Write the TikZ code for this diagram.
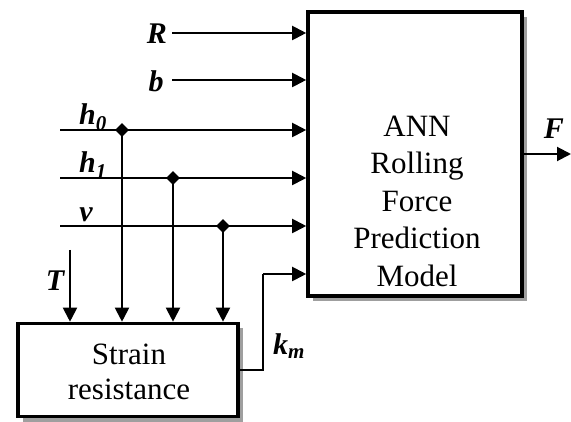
\documentclass[tikz,border=0pt]{standalone}
\usepackage{fontspec}
\setmainfont{Liberation Serif}
\usetikzlibrary{arrows.meta, shapes.geometric, shadows}

\begin{document}
\begin{tikzpicture}[
        x=1pt, y=-1pt,
        block/.style={draw, line width=3.6pt, fill=white,
            drop shadow={shadow xshift=5pt, shadow yshift=-5pt, fill=gray!75, opacity=1}},
        signal/.style={line width=2pt, -{Triangle[length=14pt, width=14pt]}},
        wire/.style={line width=2pt},
        junction/.style={diamond, fill=black, inner sep=0pt, minimum size=14pt},
        varlabel/.style={font=\fontsize{30}{32}\selectfont\bfseries\itshape, inner sep=0pt},
        boxtext/.style={font=\fontsize{31}{37.5}\selectfont, align=center}
    ]
    \useasboundingbox (0,0) rectangle (571,422);

    % Bloky modelu
    \node[block, minimum width=214pt, minimum height=284pt] (ann) at (415,154) {};
    \node[boxtext] (anntext) at (417,201) {ANN\\Rolling\\Force\\Prediction\\Model};
    \node[block, minimum width=220pt, minimum height=93pt] (strain) at (128,370) {};
    \node[boxtext, font=\fontsize{31}{35}\selectfont] (straintext) at (129,372) {Strain\\resistance};

    % Volne konce vstupnich signalu
    \coordinate (rin) at (172,33);
    \coordinate (bin) at (172,80);
    \coordinate (hoin) at (60,130);
    \coordinate (hain) at (60,178);
    \coordinate (vin) at (60,226);
    \coordinate (tin) at (70,250);
    \coordinate (kbend) at (263,274);
    \coordinate (fout) at (571,154);

    % Odbocky k bloku odporu
    \node[junction] (jho) at (122,130) {};
    \node[junction] (jha) at (173,178) {};
    \node[junction] (jv) at (223,226) {};

    % Popisky signalu
    \node[varlabel] (rlabel) at (157,34) {R};
    \node[varlabel] (blabel) at (156,81) {b};
    \node[varlabel, anchor=base] (holabel) at (93,125) {h\textsubscript{0}};
    \node[varlabel, anchor=base] (halabel) at (93,173) {h\textsubscript{1}};
    \node[varlabel, anchor=base] (vlabel) at (86,222) {v};
    \node[varlabel] (tlabel) at (55,281) {T};
    \node[varlabel] (klabel) at (289,346) {k\textsubscript{m}};
    \node[varlabel] (flabel) at (554,129) {F};

    % Vstupy do ANN modelu
    \draw[signal] (rin) -- (rin -| ann.west);
    \draw[signal] (bin) -- (bin -| ann.west);
    \draw[signal] (hoin) -- (hoin -| ann.west);
    \draw[signal] (hain) -- (hain -| ann.west);
    \draw[signal] (vin) -- (vin -| ann.west);

    % Vstupy do bloku odporu
    \draw[signal] (jho.center) -- (jho |- strain.north);
    \draw[signal] (jha.center) -- (jha |- strain.north);
    \draw[signal] (jv.center) -- (jv |- strain.north);
    \draw[signal] (tin) -- (tin |- strain.north);

    % Zpetna vazba k_m a vystup F
    \draw[wire] (strain.east) -| (kbend);
    \draw[signal] (kbend) -- (kbend -| ann.west);
    \draw[signal] (ann.east) -- (fout);

\end{tikzpicture}
\end{document}
